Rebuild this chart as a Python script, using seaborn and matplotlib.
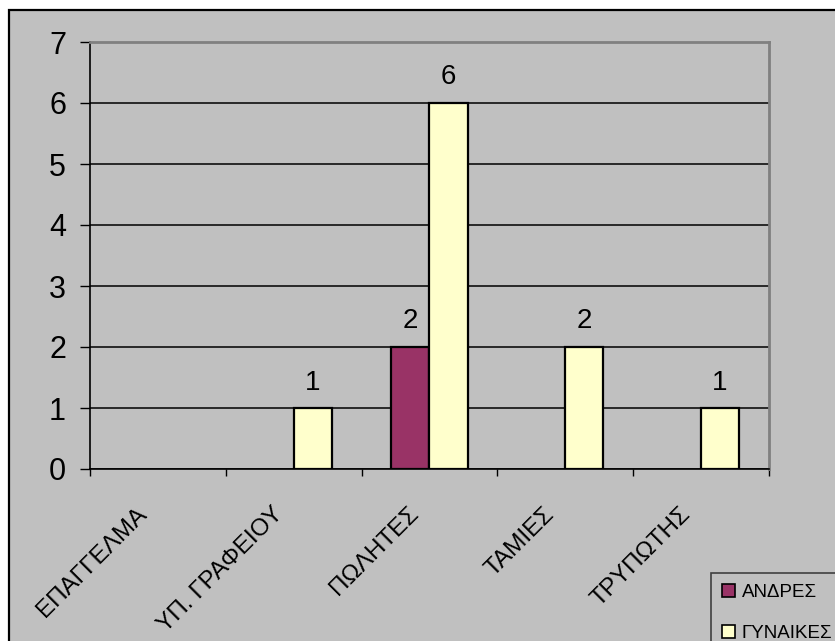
import matplotlib
matplotlib.use("Agg")
import matplotlib.pyplot as plt
import matplotlib.transforms as mtransforms
from matplotlib.patches import Rectangle, Patch
import seaborn as sns
import pandas as pd

# Occupations and counts per gender
categories = ["ΕΠΑΓΓΕΛΜΑ", "ΥΠ. ΓΡΑΦΕΙΟΥ", "ΠΩΛΗΤΕΣ", "ΤΑΜΙΕΣ", "ΤΡΥΠΩΤΗΣ"]
series_names = ["ΑΝΔΡΕΣ", "ΓΥΝΑΙΚΕΣ"]
men = [0, 0, 2, 0, 0]
women = [0, 1, 6, 2, 1]
y_ticks = [0, 1, 2, 3, 4, 5, 6, 7]

colors = {"ΑΝΔΡΕΣ": "#993366", "ΓΥΝΑΙΚΕΣ": "#FFFFCC"}
bg = "#C0C0C0"

df = pd.DataFrame({
    "category": categories * 2,
    "series": [series_names[0]] * len(categories) + [series_names[1]] * len(categories),
    "value": men + women,
})

sns.set_style("white")
plt.rcParams["font.family"] = ["Liberation Sans", "DejaVu Sans"]
plt.rcParams["text.color"] = "black"
plt.rcParams["xtick.color"] = "black"
plt.rcParams["ytick.color"] = "black"
plt.rcParams["axes.labelcolor"] = "black"

W, H = 835, 641
fig = plt.figure(figsize=(W / 100, H / 100), dpi=100, facecolor="white")

# Chart area with black border (runs off the right/bottom edges)
frame = Rectangle((9 / W, -0.2), 1.2, 1 - 10 / H + 0.2,
                  transform=fig.transFigure, facecolor=bg,
                  edgecolor="black", linewidth=1.6, zorder=-10)
fig.patches.append(frame)

left, right, top, bottom = 90, 769, 42, 469
ax = fig.add_axes([left / W, 1 - bottom / H, (right - left) / W, (bottom - top) / H])
ax.set_zorder(1)
ax.set_facecolor(bg)

sns.barplot(data=df, x="category", y="value", hue="series", order=categories,
            hue_order=series_names, palette=colors, width=0.56, gap=0,
            edgecolor="black", linewidth=1.6, saturation=1, legend=False, ax=ax)

# Empty bars leave no outline on the axis
for cont in ax.containers:
    for bar in cont:
        if bar.get_height() == 0:
            bar.set_linewidth(0)

ax.set_ylim(0, 7)
ax.set_xlim(-0.5, len(categories) - 0.5)
ax.set_yticks(y_ticks)
ax.yaxis.grid(True, color="black", linewidth=1.1)
ax.set_axisbelow(True)
ax.set_xlabel("")
ax.set_ylabel("")

for s in ["top", "right"]:
    ax.spines[s].set_color("#808080")
    ax.spines[s].set_linewidth(2)
for s in ["left", "bottom"]:
    ax.spines[s].set_color("black")
    ax.spines[s].set_linewidth(1.2)

ax.tick_params(axis="y", which="major", direction="out", length=7.2, width=1,
               color="black", labelsize=22, pad=10, left=True)
ax.set_xticks(range(len(categories)))
ax.set_xticks([i - 0.5 for i in range(len(categories) + 1)], minor=True)
ax.tick_params(axis="x", which="major", length=0, pad=30)
ax.tick_params(axis="x", which="minor", direction="out", length=5, width=1,
               color="black", bottom=True)
ax.set_xticklabels(categories, rotation=45, ha="right", va="center",
                   rotation_mode="anchor", fontsize=17.5)
shift = mtransforms.ScaledTranslation(-14 / 100, 0, fig.dpi_scale_trans)
for lab in ax.get_xticklabels():
    lab.set_transform(lab.get_transform() + shift)

# Value labels only on non-empty bars
for cont, vals in zip(ax.containers, [men, women]):
    ax.bar_label(cont, labels=[str(v) if v else "" for v in vals],
                 padding=9, fontsize=20)

handles = [Patch(facecolor=colors[n], edgecolor="black", linewidth=1.2) for n in series_names]
leg = fig.legend(handles, series_names, loc="upper left",
                 bbox_to_anchor=(711 / W, 1 - 573 / H), fontsize=13.5,
                 frameon=True, fancybox=False, handlelength=0.7, handleheight=0.7,
                 handletextpad=0.35, labelspacing=1.25, borderpad=0.6,
                 borderaxespad=0)
leg.get_frame().set_facecolor(bg)
leg.get_frame().set_edgecolor("#202020")
leg.get_frame().set_linewidth(1.2)
leg.set_zorder(5)

fig.savefig("out.png", dpi=100, facecolor="white")
